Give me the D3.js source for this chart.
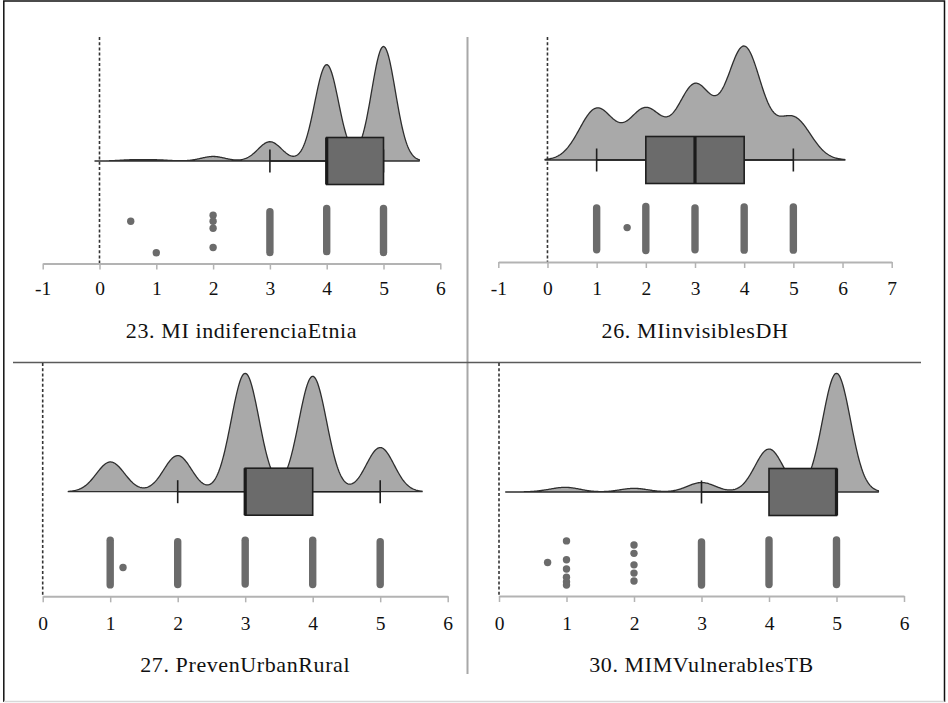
<!DOCTYPE html>
<html><head><meta charset="utf-8">
<script src="https://cdn.jsdelivr.net/npm/d3@7"></script>
<style>body{margin:0;background:#fff}svg{display:block}</style>
</head><body><svg id="c" width="948" height="703"></svg>
<script>
// ---------------- DATA ----------------
const titles = ["23. MI indiferenciaEtnia", "26. MIinvisiblesDH", "27. PrevenUrbanRural", "30. MIMVulnerablesTB"];

const ticks1 = [-1, 0, 1, 2, 3, 4, 5, 6];
const ticks2 = [-1, 0, 1, 2, 3, 4, 5, 6, 7];
const ticks3 = [0, 1, 2, 3, 4, 5, 6];
const ticks4 = [0, 1, 2, 3, 4, 5, 6];

// response values and how many answers each (read from density peaks / dots)
const values1 = [0.55, 1, 2, 3, 4, 5];
const counts1 = [1, 1, 4, 17, 85, 101];
const values2 = [1, 1.62, 2, 3, 4, 5];
const counts2 = [51, 1, 50, 74, 112, 42];
const values3 = [1, 1.19, 2, 3, 4, 5];
const counts3 = [29, 1, 36, 118, 115, 44];
const values4 = [0.72, 1, 2, 3, 4, 5];
const counts4 = [1, 6, 5, 13, 59, 163];

// kernel bandwidths
const bandwidths = [0.21, 0.35, 0.207, 0.207];

// box plot stats: [whisker low, Q1, median, Q3, whisker high]
const box1 = [3, 4, 4, 5, 5];
const box2 = [1, 2, 3, 4, 5];
const box3 = [2, 3, 3, 4, 5];
const box4 = [3, 4, 5, 5, 5];

// individual jittered points: [value, jitter 0..1]
const points1 = [[0.55, 0.70], [1, 0.015], [2, 0.83], [2, 0.70], [2, 0.55], [2, 0.13]];
const points2 = [[1.62, 0.53]];
const points3 = [[1.19, 0.41]];
const points4 = [[0.72, 0.51], [1, 0.98], [1, 0.57], [1, 0.37], [1, 0.19], [1, 0.09], [1, 0.02],
                 [2, 0.89], [2, 0.71], [2, 0.46], [2, 0.28], [2, 0.11]];
// dense point columns: [value, jitter low, jitter high]
const columns1 = [[3, 0.02, 0.91], [4, 0.04, 0.98], [5, 0.02, 0.98]];
const columns2 = [[1, 0.05, 0.96], [2, 0.03, 0.99], [3, 0.05, 0.96], [4, 0.04, 0.98], [5, 0.04, 0.98]];
const columns3 = [[1, 0.03, 1.0], [2, 0.04, 0.97], [3, 0.05, 1.0], [4, 0.04, 1.0], [5, 0.04, 0.97]];
const columns4 = [[3, 0.02, 0.96], [4, 0.03, 1.0], [5, 0.03, 1.0]];

// ---------------- LAYOUT ----------------
const panels = [
  {title: titles[0], ticks: ticks1, values: values1, counts: counts1, bw: bandwidths[0], box: box1, points: points1, columns: columns1,
   range: [42.7, 440.3], axisY: 263.5, baseY: 161, densH: 114.5, labelY: 295, titleY: 338, zeroTop: 37},
  {title: titles[1], ticks: ticks2, values: values2, counts: counts2, bw: bandwidths[1], box: box2, points: points2, columns: columns2,
   range: [498.3, 891.7], axisY: 262, baseY: 160, densH: 114, labelY: 295, titleY: 338, zeroTop: 37},
  {title: titles[2], ticks: ticks3, values: values3, counts: counts3, bw: bandwidths[2], box: box3, points: points3, columns: columns3,
   range: [42.7, 447.7], axisY: 596.3, baseY: 491.7, densH: 118.4, labelY: 630, titleY: 672, zeroTop: 363},
  {title: titles[3], ticks: ticks4, values: values4, counts: counts4, bw: bandwidths[3], box: box4, points: points4, columns: columns4,
   range: [499, 904], axisY: 596, baseY: 492, densH: 118.7, labelY: 630, titleY: 672, zeroTop: 363}
];

const svg = d3.select("#c");
const FONT = "'Liberation Serif', 'Times New Roman', serif";
const DOT = "#6b6b6b";

// frame
svg.append("path").attr("d", "M3.8,702 V1 H944.5 V702").attr("fill", "none").attr("stroke", "#111").attr("stroke-width", 1.5);
svg.append("line").attr("x1", 3.8).attr("x2", 944.5).attr("y1", 701.5).attr("y2", 701.5).attr("stroke", "#d8d8d8").attr("stroke-width", 1.5);
// separators
svg.append("line").attr("x1", 467.5).attr("x2", 467.5).attr("y1", 37).attr("y2", 674).attr("stroke", "#a8a8a8").attr("stroke-width", 2);
svg.append("line").attr("x1", 13).attr("x2", 921).attr("y1", 362.5).attr("y2", 362.5).attr("stroke", "#5a5a5a").attr("stroke-width", 1.6);

panels.forEach(p => {
  const g = svg.append("g");
  const ext = d3.extent(p.ticks);
  const x = d3.scaleLinear().domain(ext).range(p.range);

  // zero reference
  g.append("line").attr("x1", x(0)).attr("x2", x(0)).attr("y1", p.zeroTop).attr("y2", p.axisY)
    .attr("stroke", "#333").attr("stroke-width", 1.6).attr("stroke-dasharray", "3,2.2");

  // density (gaussian kernel estimate over the answers)
  const lo = d3.min(p.values) - 3 * p.bw, hi = d3.max(p.values) + 3 * p.bw;
  const grid = d3.range(lo, hi + 1e-9, (hi - lo) / 400);
  const dens = grid.map(t => [t, d3.sum(p.values, (v, i) => p.counts[i] * Math.exp(-0.5 * ((t - v) / p.bw) ** 2))]);
  const yD = d3.scaleLinear().domain([0, d3.max(dens, d => d[1])]).range([p.baseY, p.baseY - p.densH]);
  g.append("path").datum(dens)
    .attr("d", d3.area().x(d => x(d[0])).y0(p.baseY).y1(d => yD(d[1])))
    .attr("fill", "#a9a9a9").attr("stroke", "#2e2e2e").attr("stroke-width", 1.3).attr("stroke-linejoin", "round");

  // box plot
  const [wl, q1, med, q3, wh] = p.box;
  const bh = 23.5, th = 11.5;
  g.append("line").attr("x1", x(wl)).attr("x2", x(q1)).attr("y1", p.baseY).attr("y2", p.baseY).attr("stroke", "#1e1e1e").attr("stroke-width", 1.6);
  g.append("line").attr("x1", x(q3)).attr("x2", x(wh)).attr("y1", p.baseY).attr("y2", p.baseY).attr("stroke", "#1e1e1e").attr("stroke-width", 1.6);
  [wl, wh].forEach(w => g.append("line").attr("x1", x(w)).attr("x2", x(w)).attr("y1", p.baseY - th).attr("y2", p.baseY + th)
    .attr("stroke", "#1e1e1e").attr("stroke-width", 1.6));
  g.append("rect").attr("x", x(q1)).attr("y", p.baseY - bh).attr("width", x(q3) - x(q1)).attr("height", 2 * bh)
    .attr("fill", "#6b6b6b").attr("stroke", "#1e1e1e").attr("stroke-width", 1.6);
  g.append("line").attr("x1", x(med)).attr("x2", x(med)).attr("y1", p.baseY - bh).attr("y2", p.baseY + bh)
    .attr("stroke", "#1a1a1a").attr("stroke-width", 3.2);

  // jittered points
  const yJ = d3.scaleLinear().domain([0, 1]).range([p.axisY - 10, p.axisY - 56]);
  g.selectAll(".col").data(p.columns).join("line")
    .attr("x1", d => x(d[0])).attr("x2", d => x(d[0]))
    .attr("y1", d => yJ(d[1])).attr("y2", d => yJ(d[2]))
    .attr("stroke", DOT).attr("stroke-width", 7.4).attr("stroke-linecap", "round");
  g.selectAll(".pt").data(p.points).join("circle")
    .attr("cx", d => x(d[0])).attr("cy", d => yJ(d[1])).attr("r", 3.7).attr("fill", DOT);

  // axis
  const ax = g.append("g").attr("transform", `translate(0,${p.axisY})`)
    .call(d3.axisBottom(x).tickValues(p.ticks).tickSizeInner(6).tickSizeOuter(0).tickPadding(12).tickFormat(d => String(d)));
  ax.select(".domain").attr("stroke", "#b3b3b3").attr("stroke-width", 2);
  ax.selectAll(".tick line").attr("stroke", "#b3b3b3").attr("stroke-width", 1.5);
  ax.selectAll(".tick text").attr("font-family", null).attr("font-size", null)
    .style("font-family", FONT).style("font-size", "19.5px").attr("fill", "#111")
    .attr("dy", null).attr("y", p.labelY - p.axisY);

  // title
  g.append("text").attr("x", (p.range[0] + p.range[1]) / 2).attr("y", p.titleY)
    .attr("text-anchor", "middle").style("font-family", FONT).style("font-size", "22px")
    .style("letter-spacing", "0.6px").attr("fill", "#111").text(p.title);
});
</script>
</body></html>
